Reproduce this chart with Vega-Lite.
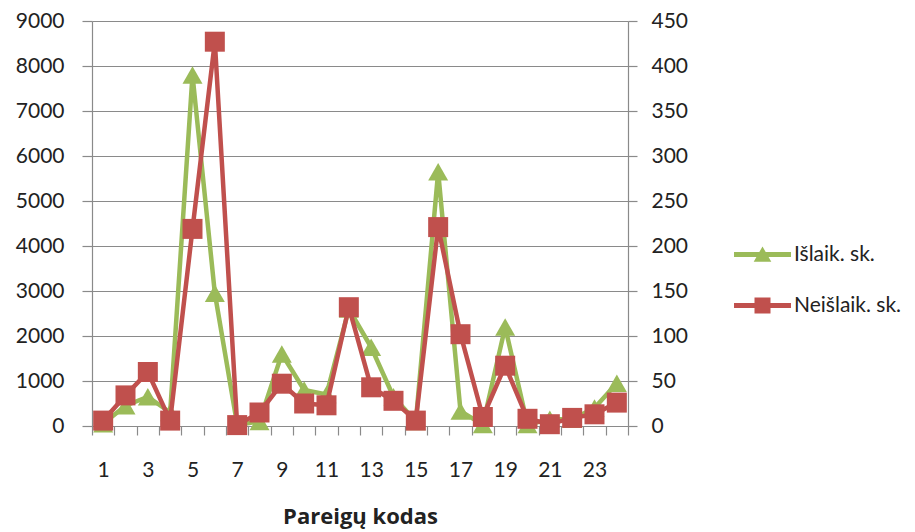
{
  "$schema": "https://vega.github.io/schema/vega-lite/v6.json",
  "width": 536,
  "height": 405,
  "autosize": "none",
  "padding": {"left": 92, "top": 21, "right": 287, "bottom": 106},
  "background": "white",
  "config": {
    "font": "Lato",
    "view": {"stroke": null},
    "axis": {
      "labelFont": "Lato",
      "labelFontSize": 21,
      "labelColor": "#222222",
      "domainColor": "#8a8a8a",
      "tickColor": "#8a8a8a",
      "gridColor": "#8a8a8a",
      "domainWidth": 1.2,
      "tickWidth": 1.2,
      "gridWidth": 1.2
    }
  },
  "data": {
    "values": [
      {"kodas": 1, "serija": "Išlaik. sk.", "reiksme": 50},
      {"kodas": 2, "serija": "Išlaik. sk.", "reiksme": 450},
      {"kodas": 3, "serija": "Išlaik. sk.", "reiksme": 650},
      {"kodas": 4, "serija": "Išlaik. sk.", "reiksme": 300},
      {"kodas": 5, "serija": "Išlaik. sk.", "reiksme": 7800},
      {"kodas": 6, "serija": "Išlaik. sk.", "reiksme": 2950},
      {"kodas": 7, "serija": "Išlaik. sk.", "reiksme": 30},
      {"kodas": 8, "serija": "Išlaik. sk.", "reiksme": 100},
      {"kodas": 9, "serija": "Išlaik. sk.", "reiksme": 1600},
      {"kodas": 10, "serija": "Išlaik. sk.", "reiksme": 800},
      {"kodas": 11, "serija": "Išlaik. sk.", "reiksme": 700},
      {"kodas": 12, "serija": "Išlaik. sk.", "reiksme": 2600},
      {"kodas": 13, "serija": "Išlaik. sk.", "reiksme": 1750},
      {"kodas": 14, "serija": "Išlaik. sk.", "reiksme": 650},
      {"kodas": 15, "serija": "Išlaik. sk.", "reiksme": 100},
      {"kodas": 16, "serija": "Išlaik. sk.", "reiksme": 5650},
      {"kodas": 17, "serija": "Išlaik. sk.", "reiksme": 330},
      {"kodas": 18, "serija": "Išlaik. sk.", "reiksme": 30},
      {"kodas": 19, "serija": "Išlaik. sk.", "reiksme": 2200},
      {"kodas": 20, "serija": "Išlaik. sk.", "reiksme": 30},
      {"kodas": 21, "serija": "Išlaik. sk.", "reiksme": 150},
      {"kodas": 22, "serija": "Išlaik. sk.", "reiksme": 150},
      {"kodas": 23, "serija": "Išlaik. sk.", "reiksme": 400},
      {"kodas": 24, "serija": "Išlaik. sk.", "reiksme": 950},
      {"kodas": 1, "serija": "Neišlaik. sk.", "reiksme": 6},
      {"kodas": 2, "serija": "Neišlaik. sk.", "reiksme": 34},
      {"kodas": 3, "serija": "Neišlaik. sk.", "reiksme": 60},
      {"kodas": 4, "serija": "Neišlaik. sk.", "reiksme": 6},
      {"kodas": 5, "serija": "Neišlaik. sk.", "reiksme": 219},
      {"kodas": 6, "serija": "Neišlaik. sk.", "reiksme": 427},
      {"kodas": 7, "serija": "Neišlaik. sk.", "reiksme": 1},
      {"kodas": 8, "serija": "Neišlaik. sk.", "reiksme": 15},
      {"kodas": 9, "serija": "Neišlaik. sk.", "reiksme": 47},
      {"kodas": 10, "serija": "Neišlaik. sk.", "reiksme": 25},
      {"kodas": 11, "serija": "Neišlaik. sk.", "reiksme": 23},
      {"kodas": 12, "serija": "Neišlaik. sk.", "reiksme": 132},
      {"kodas": 13, "serija": "Neišlaik. sk.", "reiksme": 43},
      {"kodas": 14, "serija": "Neišlaik. sk.", "reiksme": 28},
      {"kodas": 15, "serija": "Neišlaik. sk.", "reiksme": 6},
      {"kodas": 16, "serija": "Neišlaik. sk.", "reiksme": 221},
      {"kodas": 17, "serija": "Neišlaik. sk.", "reiksme": 102},
      {"kodas": 18, "serija": "Neišlaik. sk.", "reiksme": 10},
      {"kodas": 19, "serija": "Neišlaik. sk.", "reiksme": 67},
      {"kodas": 20, "serija": "Neišlaik. sk.", "reiksme": 8},
      {"kodas": 21, "serija": "Neišlaik. sk.", "reiksme": 2},
      {"kodas": 22, "serija": "Neišlaik. sk.", "reiksme": 9},
      {"kodas": 23, "serija": "Neišlaik. sk.", "reiksme": 13},
      {"kodas": 24, "serija": "Neišlaik. sk.", "reiksme": 26}
    ]
  },
  "encoding": {
    "x": {
      "field": "kodas",
      "type": "ordinal",
      "bandPosition": 0.5,
      "scale": {"type": "band", "paddingInner": 0, "paddingOuter": 0},
      "axis": {
        "title": "Pareigų kodas",
        "titleFont": "Open Sans",
        "titleFontSize": 22,
        "titleFontWeight": "bold",
        "titleColor": "#222222",
        "titlePadding": 26,
        "labelAngle": 0,
        "labelExpr": "datum.value % 2 == 1 ? datum.label : ''",
        "tickBand": "extent",
        "tickSize": 9,
        "labelPadding": 24,
        "grid": false
      }
    },
    "color": {
      "field": "serija",
      "type": "nominal",
      "scale": {"domain": ["Išlaik. sk.", "Neišlaik. sk."], "range": ["#9BBB59", "#C0504D"]},
      "legend": {
        "title": null,
        "orient": "none",
        "legendX": 660,
        "legendY": 223,
        "padding": 0,
        "labelFont": "Lato",
        "labelFontSize": 21,
        "labelColor": "#222222",
        "symbolSize": 256,
        "labelOffset": 21,
        "rowPadding": 29,
        "symbolStrokeWidth": 0,
        "symbolOpacity": 1,
        "encode": {
          "symbols": {
            "update": {
              "fill": {"scale": "color", "field": "value"},
              "fillOpacity": {"value": 1},
              "opacity": {"value": 1},
              "strokeWidth": {"value": 0}
            }
          }
        }
      }
    }
  },
  "layer": [
    {
      "transform": [{"filter": "datum.serija === 'Išlaik. sk.'"}],
      "layer": [
        {
          "mark": {"type": "line", "strokeWidth": 4.5, "strokeJoin": "round", "strokeCap": "round", "point": {"shape": "triangle-up", "size": 400, "filled": true, "opacity": 1}},
          "encoding": {
            "y": {
              "field": "reiksme",
              "type": "quantitative",
              "scale": {"domain": [0, 9000]},
              "axis": {"orient": "left", "title": null, "format": "d", "values": [0, 1000, 2000, 3000, 4000, 5000, 6000, 7000, 8000, 9000], "grid": true, "tickSize": 10, "labelPadding": 18}
            }
          }
        },
        {
          "mark": {"type": "point", "filled": true, "opacity": 0},
          "encoding": {
            "y": {"field": "reiksme", "type": "quantitative"},
            "shape": {
              "field": "serija",
              "type": "nominal",
              "scale": {
                "domain": ["Išlaik. sk.", "Neišlaik. sk."],
                "range": [
                  "M-3.56,-0.31L3.56,-0.31L3.56,0.31L-3.56,0.31Z M0,-1L1.1,0.9L-1.1,0.9Z",
                  "M-3.56,-0.31L3.56,-0.31L3.56,0.31L-3.56,0.31Z M-1,-1L1,-1L1,1L-1,1Z"
                ]
              }
            }
          }
        }
      ]
    },
    {
      "transform": [{"filter": "datum.serija === 'Neišlaik. sk.'"}],
      "mark": {"type": "line", "strokeWidth": 4.5, "strokeJoin": "round", "strokeCap": "round", "point": {"shape": "square", "size": 400, "filled": true, "opacity": 1}},
      "encoding": {
        "y": {
          "field": "reiksme",
          "type": "quantitative",
          "scale": {"domain": [0, 450]},
          "axis": {"orient": "right", "title": null, "values": [0, 50, 100, 150, 200, 250, 300, 350, 400, 450], "grid": false, "tickSize": 9, "labelPadding": 14}
        }
      }
    }
  ],
  "resolve": {"scale": {"y": "independent"}}
}
